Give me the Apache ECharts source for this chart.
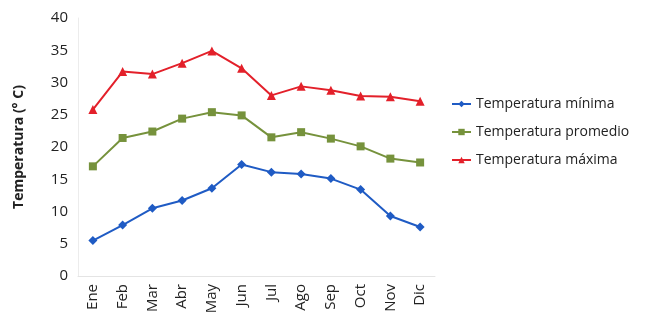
<!DOCTYPE html>
<html>
<head>
<meta charset="utf-8">
<script src="https://cdn.jsdelivr.net/npm/echarts@6/dist/echarts.min.js"></script>
<style>
  html, body { margin: 0; padding: 0; background: #fff; }
  #chart { width: 666px; height: 326px; }
</style>
</head>
<body>
<div id="chart"></div>
<script>
// Monthly temperatures (°C)
const months = ['Ene', 'Feb', 'Mar', 'Abr', 'May', 'Jun', 'Jul', 'Ago', 'Sep', 'Oct', 'Nov', 'Dic'];
const tempMin = [5.5, 7.9, 10.5, 11.7, 13.6, 17.3, 16.1, 15.8, 15.1, 13.4, 9.3, 7.6];
const tempAvg = [17.0, 21.4, 22.4, 24.4, 25.4, 24.9, 21.5, 22.3, 21.3, 20.1, 18.2, 17.6];
const tempMax = [25.8, 31.7, 31.3, 33.0, 34.9, 32.2, 28.0, 29.4, 28.8, 27.9, 27.8, 27.1];
const yTicks = { min: 0, max: 40, interval: 5 };

const font = '"Open Sans", "Noto Sans", sans-serif';
const chart = echarts.init(document.getElementById('chart'), null, { renderer: 'canvas' });

function lineSeries(name, data, color, symbol, size) {
  return {
    name, type: 'line', data,
    symbol, symbolSize: size,
    lineStyle: { color, width: 2 },
    itemStyle: { color },
    emphasis: { disabled: true },
    animation: false
  };
}

chart.setOption({
  backgroundColor: '#fff',
  textStyle: { fontFamily: font },
  grid: { left: 78, right: 231, top: 18, bottom: 50 },
  legend: {
    orient: 'vertical',
    left: 446,
    top: 92,
    itemWidth: 19,
    itemHeight: 8,
    itemGap: 14,
    textStyle: { fontFamily: font, fontSize: 14, color: '#222' },
    data: ['Temperatura mínima', 'Temperatura promedio', 'Temperatura máxima']
  },
  xAxis: {
    type: 'category',
    data: months,
    boundaryGap: true,
    axisLine: { show: true, lineStyle: { color: '#e4e4e4' } },
    axisTick: { show: false },
    axisLabel: { rotate: 90, color: '#222', fontSize: 15, fontFamily: font, margin: 8 }
  },
  yAxis: {
    type: 'value',
    min: yTicks.min, max: yTicks.max, interval: yTicks.interval,
    name: 'Temperatura (° C)',
    nameLocation: 'middle',
    nameGap: 52,
    nameTextStyle: { fontWeight: 'bold', fontSize: 14, color: '#222', fontFamily: font },
    axisLine: { show: true, lineStyle: { color: '#ececec' } },
    axisTick: { show: false },
    splitLine: { show: false },
    axisLabel: { color: '#222', fontSize: 15, fontFamily: font, margin: 10 }
  },
  series: [
    lineSeries('Temperatura mínima', tempMin, '#1f5bc4', 'diamond', 9),
    lineSeries('Temperatura promedio', tempAvg, '#76923c', 'rect', 8),
    lineSeries('Temperatura máxima', tempMax, '#e3202a', 'triangle', 9)
  ]
});
</script>
</body>
</html>
